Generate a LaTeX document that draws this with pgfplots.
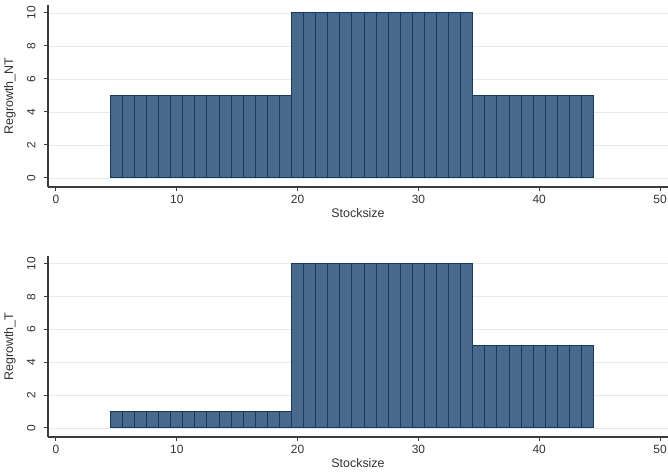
\documentclass[border=0pt]{standalone}
\usepackage{fontspec}
\setmainfont{Liberation Sans}
\usepackage{pgfplots}
\pgfplotsset{compat=1.18}
\definecolor{barfill}{RGB}{72,104,140}
\definecolor{bardraw}{RGB}{25,58,96}
\definecolor{gridc}{RGB}{226,236,239}
\definecolor{axc}{RGB}{60,60,60}
\pgfplotsset{panel/.style={
  scale only axis, width=620bp, height=182bp,
  xmin=-0.66, xmax=50.66, ymin=-0.55, ymax=10.48,
  axis x line*=bottom, axis y line*=left,
  xtick={0,10,...,50}, ytick={0,2,...,10},
  ymajorgrids, grid style={gridc, line width=0.8pt},
  tick align=outside, major tick length=4bp,
  tick style={axc, line width=1pt},
  axis line style={axc, line width=1.4pt, -},
  /pgf/number format/assume math mode=true,
  ticklabel style={font=\fontsize{12}{13}\selectfont, text=black!80},
  yticklabel style={rotate=90, anchor=south, yshift=5bp},
  xticklabel style={anchor=north, yshift=-1bp},
  label style={font=\fontsize{12.5}{14}\selectfont, text=black!80},
  xlabel={Stocksize},
  xlabel style={at={(axis description cs:0.5,0)}, anchor=center, yshift=-26bp},
  ylabel style={at={(axis description cs:0,0.5)}, anchor=center, yshift=38bp},
  clip=false,
}}
\begin{document}
\begin{tikzpicture}
\useasboundingbox (0,0) rectangle (668bp,472bp);
\begin{axis}[panel, at={(48bp,285bp)}, anchor=south west, ylabel={Regrowth\_NT}]
\addplot[ybar, bar width=1, bar shift=0pt, fill=barfill, draw=bardraw, line width=1pt] coordinates {
(5,5)(6,5)(7,5)(8,5)(9,5)(10,5)(11,5)(12,5)(13,5)(14,5)(15,5)(16,5)(17,5)(18,5)(19,5)
(20,10)(21,10)(22,10)(23,10)(24,10)(25,10)(26,10)(27,10)(28,10)(29,10)(30,10)(31,10)(32,10)(33,10)(34,10)
(35,5)(36,5)(37,5)(38,5)(39,5)(40,5)(41,5)(42,5)(43,5)(44,5)};
\end{axis}
\begin{axis}[panel, at={(48bp,35bp)}, anchor=south west, height=181bp, ylabel={Regrowth\_T}]
\addplot[ybar, bar width=1, bar shift=0pt, fill=barfill, draw=bardraw, line width=1pt] coordinates {
(5,1)(6,1)(7,1)(8,1)(9,1)(10,1)(11,1)(12,1)(13,1)(14,1)(15,1)(16,1)(17,1)(18,1)(19,1)
(20,10)(21,10)(22,10)(23,10)(24,10)(25,10)(26,10)(27,10)(28,10)(29,10)(30,10)(31,10)(32,10)(33,10)(34,10)
(35,5)(36,5)(37,5)(38,5)(39,5)(40,5)(41,5)(42,5)(43,5)(44,5)};
\end{axis}
\end{tikzpicture}
\end{document}
